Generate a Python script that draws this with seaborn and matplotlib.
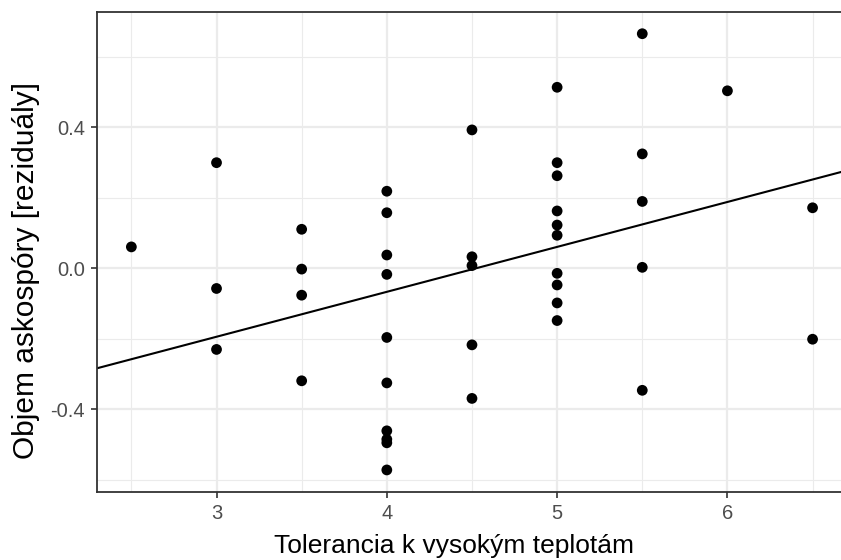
import matplotlib
matplotlib.use("Agg")
import matplotlib.pyplot as plt
import seaborn as sns
import pandas as pd
from matplotlib.ticker import MultipleLocator

# ---- data ----
tolerance = [2.5,
             3, 3, 3,
             3.5, 3.5, 3.5, 3.5,
             4, 4, 4, 4, 4, 4, 4, 4, 4, 4,
             4.5, 4.5, 4.5, 4.5, 4.5,
             5, 5, 5, 5, 5, 5, 5, 5, 5, 5,
             5.5, 5.5, 5.5, 5.5, 5.5,
             6,
             6.5, 6.5]
residuals = [0.061,
             0.300, -0.057, -0.230,
             0.111, -0.002, -0.076, -0.319,
             0.219, 0.158, 0.038, -0.017, -0.196, -0.325, -0.461, -0.485, -0.495, -0.572,
             0.393, 0.033, 0.008, -0.217, -0.369,
             0.514, 0.300, 0.263, 0.163, 0.123, 0.094, -0.014, -0.047, -0.098, -0.148,
             0.666, 0.325, 0.190, 0.003, -0.346,
             0.504,
             0.172, -0.201]
line_intercept = -0.5765
line_slope = 0.1275

x_ticks = [3, 4, 5, 6]
y_ticks = [-0.4, 0.0, 0.4]
y_tick_labels = ["-0.4", "0.0", "0.4"]
x_label = "Tolerancia k vysokým teplotám"
y_label = "Objem askospóry [reziduály]"

df = pd.DataFrame({"x": tolerance, "y": residuals})

sns.set_theme(style="white")
plt.rcParams["font.family"] = ["Liberation Sans", "DejaVu Sans"]

fig = plt.figure(figsize=(8.41, 5.6), dpi=100)
ax = fig.add_axes([0.1157, 0.1218, 0.891, 0.857])

ax.set_xlim(2.3, 6.7)
ax.set_ylim(-0.634, 0.728)

ax.set_xticks(x_ticks)
ax.xaxis.set_minor_locator(MultipleLocator(0.5))
ax.set_yticks(y_ticks)
ax.set_yticklabels(y_tick_labels)
ax.yaxis.set_minor_locator(MultipleLocator(0.2))

ax.grid(True, which="major", color="#EBEBEB", linewidth=1.6, zorder=0)
ax.grid(True, which="minor", color="#EBEBEB", linewidth=0.8, zorder=0)
ax.set_axisbelow(True)

sns.scatterplot(data=df, x="x", y="y", ax=ax, color="black", s=60,
                edgecolor="none", linewidth=0, zorder=3)

ax.axline((0, line_intercept), slope=line_slope, color="black", linewidth=1.5, zorder=2)

for sp in ax.spines.values():
    sp.set_color("#333333")
    sp.set_linewidth(1.3)

ax.tick_params(axis="both", which="major", length=4.5, width=1.2, color="#333333",
               labelsize=14.5, labelcolor="#4D4D4D", pad=4.5, bottom=True, left=True)
ax.tick_params(axis="both", which="minor", length=0)

ax.set_xlabel(x_label, fontsize=19, color="black")
ax.set_ylabel(y_label, fontsize=21.5, color="black")
ax.xaxis.label.set_verticalalignment("baseline")
ax.xaxis.set_label_coords(0.476, -0.1265)
ax.yaxis.label.set_verticalalignment("center")
ax.yaxis.label.set_horizontalalignment("center")
ax.yaxis.set_label_coords(-0.0952, 0.462)

fig.savefig("out.png", dpi=100)
